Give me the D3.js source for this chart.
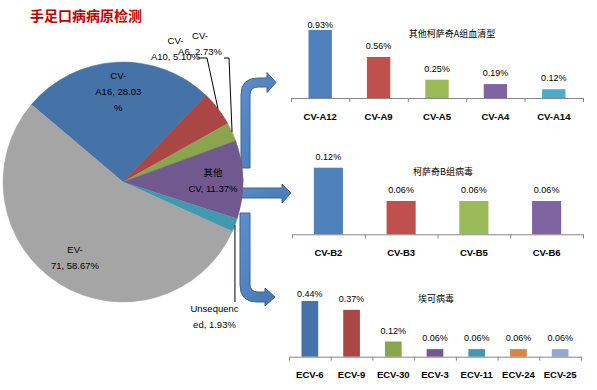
<!DOCTYPE html>
<html>
<head>
<meta charset="utf-8">
<script src="https://cdn.jsdelivr.net/npm/d3@7"></script>
<style>
  body { margin: 0; background: #fff; }
  svg { display: block; font-family: "Liberation Sans", Arial, "Noto Sans CJK SC", sans-serif; }
</style>
</head>
<body>
<svg id="chart" width="597" height="390"></svg>
<script>
// pie data (percent of samples)
const pieNames  = ["CV-A16", "CV-A10", "CV-A6", "其他CV", "Unsequenced", "EV-71"];
const pieValues = [28.03, 5.10, 2.73, 11.37, 1.93, 58.67];

// breakdown bar charts
const catsA = ["CV-A12", "CV-A9", "CV-A5", "CV-A4", "CV-A14"];
const valsA = [0.93, 0.56, 0.25, 0.19, 0.12];
const catsB = ["CV-B2", "CV-B3", "CV-B5", "CV-B6"];
const valsB = [0.12, 0.06, 0.06, 0.06];
const catsE = ["ECV-6", "ECV-9", "ECV-30", "ECV-3", "ECV-11", "ECV-24", "ECV-25"];
const valsE = [0.44, 0.37, 0.12, 0.06, 0.06, 0.06, 0.06];

const svg = d3.select("#chart");

// ---- title
svg.append("text")
    .attr("x", 30).attr("y", 21)
    .attr("font-size", 14).attr("font-weight", "bold")
    .attr("fill", "#C00000")
    .attr("font-family", "'Noto Sans CJK SC', sans-serif")
    .text("手足口病病原检测");

// ---- block arrows (drawn first, the pie sits over their tails)
const grad = svg.append("defs").append("linearGradient")
    .attr("id", "arrowFill").attr("x1", 0).attr("y1", 0).attr("x2", 1).attr("y2", 1);
grad.append("stop").attr("offset", "0%").attr("stop-color", "#5E8FCB");
grad.append("stop").attr("offset", "100%").attr("stop-color", "#4676B2");

function bentArrow(xl, xr, yStart, yt, yb, headX, tipX, headH, up) {
    // xl/xr: vertical shaft edges, yt/yb: horizontal shaft edges
    const p = d3.path();
    const mid = (yt + yb) / 2;
    if (up) {
        p.moveTo(xl, yStart);
        p.lineTo(xl, yt + 17);
        p.quadraticCurveTo(xl, yt, xl + 17, yt);
        p.lineTo(headX, yt);
        p.lineTo(headX, mid - headH / 2);
        p.lineTo(tipX, mid);
        p.lineTo(headX, mid + headH / 2);
        p.lineTo(headX, yb);
        p.lineTo(xr + 8, yb);
        p.quadraticCurveTo(xr, yb, xr, yb + 8);
        p.lineTo(xr, yStart);
    } else {
        p.moveTo(xl, yStart);
        p.lineTo(xl, yb - 17);
        p.quadraticCurveTo(xl, yb, xl + 17, yb);
        p.lineTo(headX, yb);
        p.lineTo(headX, mid + headH / 2);
        p.lineTo(tipX, mid);
        p.lineTo(headX, mid - headH / 2);
        p.lineTo(headX, yt);
        p.lineTo(xr + 8, yt);
        p.quadraticCurveTo(xr, yt, xr, yt - 8);
        p.lineTo(xr, yStart);
    }
    p.closePath();
    return p.toString();
}

const arrows = svg.append("g")
    .attr("fill", "url(#arrowFill)").attr("stroke", "#3A6496").attr("stroke-width", 1);
arrows.append("path").attr("d", bentArrow(241, 250, 168, 78, 87, 267, 276, 20, true));
arrows.append("path").attr("d", bentArrow(240, 250, 213, 292, 302, 265, 275, 18, false));
{
    const p = d3.path();
    p.moveTo(236, 188); p.lineTo(282, 188); p.lineTo(282, 184); p.lineTo(291, 193);
    p.lineTo(282, 203); p.lineTo(282, 198); p.lineTo(236, 198); p.closePath();
    arrows.append("path").attr("d", p.toString());
}

// ---- pie
const cx = 123, cy = 182, R = 120;
const pieColors = ["#4572A7", "#AA4643", "#89A54E", "#71588F", "#4198AF", "#A5A5A5"];
const start = -49.8 * Math.PI / 180;
const pie = d3.pie().sort(null).value(d => d.v)
    .startAngle(start).endAngle(start + 2 * Math.PI);
const pieData = pie(pieNames.map((n, i) => ({ name: n, v: pieValues[i], i })));

const arc = d3.arc().innerRadius(0).outerRadius(R);
const labelArc = d3.arc().innerRadius(R * 0.5).outerRadius(R);
const edgeArc = d3.arc().innerRadius(R).outerRadius(R);

const gPie = svg.append("g").attr("transform", `translate(${cx},${cy})`);
gPie.selectAll("path").data(pieData).join("path")
    .attr("d", arc)
    .attr("fill", d => pieColors[d.data.i])
    .attr("stroke", d => pieColors[d.data.i]).attr("stroke-width", 0.5);

// label wrapping / placement as Excel did it
const pieLabelLayout = {
    "CV-A16":      { breaks: [3, 13] },
    "CV-A10":      { breaks: [3], at: [175.5, 41], leader: [[198, 58], [207, 58]] },
    "CV-A6":       { breaks: [3], at: [200, 36],   leader: [[224, 58], [229, 58]] },
    "其他CV":      { breaks: [2] },
    "Unsequenced": { breaks: [9], at: [214.5, 309], leader: "down" },
    "EV-71":       { breaks: [3] }
};
const lineH = 16;

const gLeaders = svg.append("g").attr("fill", "none").attr("stroke", "#000").attr("stroke-width", 1);
const gLabels = svg.append("g").attr("font-size", 9.5).attr("fill", "#000").attr("text-anchor", "middle");

pieData.forEach(d => {
    const lay = pieLabelLayout[d.data.name];
    const full = `${d.data.name}, ${d.data.v.toFixed(2)}%`;
    const lines = [];
    let prev = 0;
    lay.breaks.concat([full.length]).forEach(b => {
        lines.push(full.slice(prev, b).trim());
        prev = b;
    });
    let x0, y0;
    if (lay.at) {
        [x0, y0] = lay.at;
        const [ex, ey] = edgeArc.centroid(d);
        const edge = [cx + ex, cy + ey];
        let pts;
        if (lay.leader === "down") pts = [edge, [edge[0], y0 - 7]];
        else pts = lay.leader.concat([edge]);
        gLeaders.append("path").attr("d", d3.line()(pts));
    } else {
        const [lx, ly] = labelArc.centroid(d);
        x0 = cx + lx;
        y0 = cy + ly - (lines.length - 1) * lineH / 2;
    }
    lines.forEach((t, k) => {
        gLabels.append("text")
            .attr("x", x0).attr("y", y0 + k * lineH)
            .attr("dy", "0.35em")
            .text(t);
    });
});

// ---- bar charts
const colors5 = ["#4F81BD", "#C0504D", "#9BBB59", "#8064A2", "#4BACC6"];
const colors7 = ["#4572A7", "#AA4643", "#89A54E", "#71588F", "#4198AF", "#DB843D", "#93A9CF"];

const charts = [
    { title: "其他柯萨奇A组血清型", cats: catsA, vals: valsA, colors: colors5,
      x0: 291, x1: 583, base: 98, yMax: 1.0, top: 24.8, tx: 452, ty: 34 },
    { title: "柯萨奇B组病毒", cats: catsB, vals: valsB, colors: colors5,
      x0: 292, x1: 583, base: 234.3, yMax: 0.14, top: 156.6, tx: 443, ty: 172 },
    { title: "埃可病毒", cats: catsE, vals: valsE, colors: colors7,
      x0: 289, x1: 581, base: 356.7, yMax: 0.5, top: 293.4, tx: 436, ty: 299 }
];

charts.forEach(c => {
    const g = svg.append("g");
    const x = d3.scaleBand().domain(c.cats).range([c.x0, c.x1])
        .paddingInner(0.6).paddingOuter(0.3);
    const y = d3.scaleLinear().domain([0, c.yMax]).range([c.base, c.top]);

    g.selectAll("rect").data(c.vals).join("rect")
        .attr("x", (v, i) => x(c.cats[i]))
        .attr("y", v => y(v))
        .attr("width", x.bandwidth())
        .attr("height", v => y(0) - y(v))
        .attr("fill", (v, i) => c.colors[i]);

    g.selectAll("text.val").data(c.vals).join("text")
        .attr("class", "val")
        .attr("x", (v, i) => x(c.cats[i]) + x.bandwidth() / 2)
        .attr("y", v => Math.max(y(v) - 11, y(c.yMax)))
        .attr("dy", "0.35em")
        .attr("text-anchor", "middle")
        .attr("font-size", 9)
        .text(v => v.toFixed(2) + "%");

    // category boundary ticks
    const xt = d3.scaleLinear().domain([0, c.cats.length]).range([c.x0, c.x1]);
    const tAxis = g.append("g").attr("transform", `translate(0,${c.base})`)
        .call(d3.axisBottom(xt).tickValues(d3.range(c.cats.length + 1))
            .tickFormat("").tickSize(4).tickSizeOuter(0));
    tAxis.selectAll("line, path").attr("stroke", "#868686");

    // category labels
    const lAxis = g.append("g").attr("transform", `translate(0,${c.base})`)
        .call(d3.axisBottom(x).tickSize(0).tickPadding(15));
    lAxis.select(".domain").remove();
    lAxis.selectAll("text")
        .attr("font-size", 9.5).attr("font-weight", "bold").attr("fill", "#000")
        .attr("font-family", "'Liberation Sans', Arial, sans-serif");

    g.append("text")
        .attr("x", c.tx).attr("y", c.ty).attr("dy", "0.35em")
        .attr("text-anchor", "middle")
        .attr("font-size", 9)
        .attr("font-family", "'Noto Sans CJK SC', sans-serif")
        .text(c.title);
});
</script>
</body>
</html>
